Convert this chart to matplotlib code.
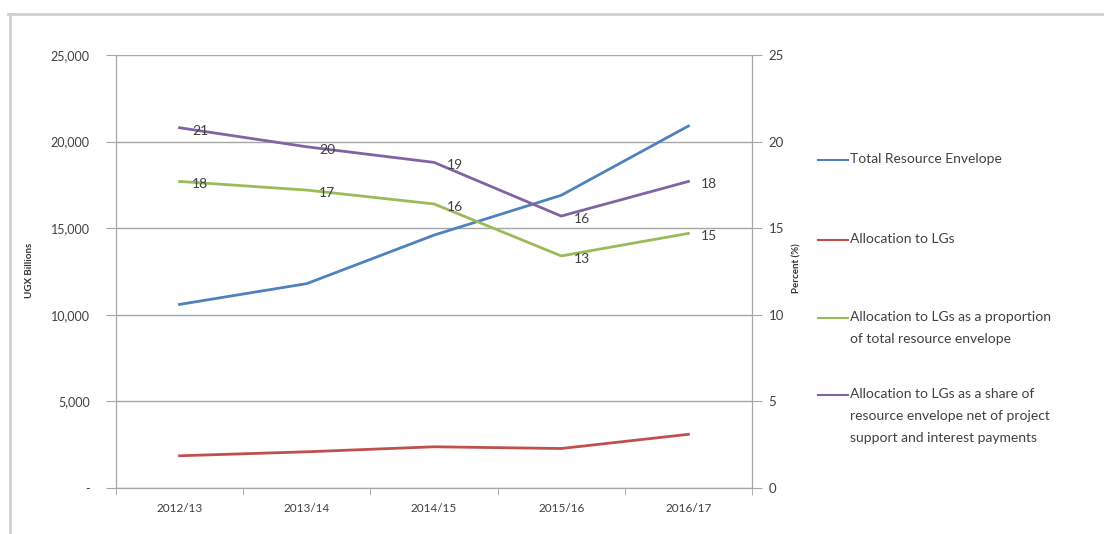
import matplotlib
matplotlib.use("Agg")
import matplotlib.pyplot as plt
from matplotlib.lines import Line2D
from matplotlib.ticker import FuncFormatter, FixedLocator

plt.rcParams['font.family'] = ['Lato', 'DejaVu Sans']

# data
years = ["2012/13", "2013/14", "2014/15", "2015/16", "2016/17"]
total_envelope = [10600, 11800, 14600, 16900, 20900]
alloc_lgs = [1860, 2090, 2380, 2280, 3100]
share_total = [17.7, 17.2, 16.4, 13.4, 14.7]
share_net = [20.8, 19.7, 18.8, 15.7, 17.7]
share_total_lbl = ["18", "17", "16", "13", "15"]
share_net_lbl = ["21", "20", "19", "16", "18"]

legend_labels = [
    "Total Resource Envelope",
    "Allocation to LGs",
    "Allocation to LGs as a proportion\nof total resource envelope",
    "Allocation to LGs as a share of\nresource envelope net of project\nsupport and interest payments",
]

BLUE = "#4F81BD"
RED = "#C0504D"
GREEN = "#9BBB59"
PURPLE = "#8064A2"
GRID = "#a6a6a6"
TXT = "#404040"

W, H = 1104, 534
fig = plt.figure(figsize=(W / 100, H / 100), dpi=100)
ax = fig.add_axes([116 / W, 1 - 488 / H, (752 - 116) / W, (488 - 55) / H])
ax2 = ax.twinx()

x = list(range(len(years)))
ax.plot(x, total_envelope, color=BLUE, lw=2, zorder=3)
ax.plot(x, alloc_lgs, color=RED, lw=2, zorder=3)
ax2.plot(x, share_total, color=GREEN, lw=2)
ax2.plot(x, share_net, color=PURPLE, lw=2)

for xi, v, t in zip(x, share_total, share_total_lbl):
    ax2.annotate(t, (xi, v), xytext=(9, -2), textcoords="offset points",
                 ha="left", va="center", fontsize=10, color=TXT)
for xi, v, t in zip(x, share_net, share_net_lbl):
    ax2.annotate(t, (xi, v), xytext=(9, -2), textcoords="offset points",
                 ha="left", va="center", fontsize=10, color=TXT)

ax.set_xlim(-0.5, len(years) - 0.5)
ax.set_ylim(0, 25000)
ax2.set_ylim(0, 25)
ax.set_yticks(range(0, 25001, 5000))
ax2.set_yticks(range(0, 26, 5))
ax.yaxis.set_major_formatter(FuncFormatter(lambda v, p: "-" if v == 0 else "{:,.0f}".format(v)))
ax.set_xticks(x)
ax.set_xticklabels(years)
ax.xaxis.set_minor_locator(FixedLocator([i - 0.5 for i in range(len(years) + 1)]))
ax.tick_params(axis="x", which="major", length=0, pad=11, labelsize=8.5, colors=TXT)
ax.tick_params(axis="x", which="minor", length=5, color=GRID)
ax.tick_params(axis="y", length=7, color=GRID, labelsize=9, labelcolor=TXT, pad=12)
ax2.tick_params(axis="y", length=7, color=GRID, labelsize=9.5, labelcolor=TXT, pad=5)

ax.grid(axis="y", color=GRID, lw=1)
ax.set_axisbelow(True)
for a in (ax, ax2):
    a.spines["top"].set_visible(False)
    for s in ("left", "right", "bottom"):
        a.spines[s].set_color(GRID)
ax2.set_zorder(ax.zorder + 1)
ax2.patch.set_visible(False)

fig.text(30 / W, 1 - 270 / H, "UGX Billions", rotation=90, ha="center", va="center",
         fontsize=7, fontweight="bold", color="#333333")
fig.text(797 / W, 1 - 268 / H, "Percent (%)", rotation=90, ha="center", va="center",
         fontsize=7, fontweight="bold", color="#333333")

# legend drawn by hand to match the spacing
colors = [BLUE, RED, GREEN, PURPLE]
tops = [160, 240, 318, 395]
for c, t, lbl in zip(colors, tops, legend_labels):
    fig.add_artist(Line2D([818 / W, 848 / W], [1 - t / H, 1 - t / H], color=c, lw=1.5))
    fig.text(850 / W, 1 - (t - 7) / H, lbl, ha="left", va="top", fontsize=10,
             color=TXT, linespacing=2.0)

# chart area border (top and left edges)
fig.add_artist(Line2D([8 / W, 1], [1 - 14 / H, 1 - 14 / H], color="#d0d0d0", lw=2))
fig.add_artist(Line2D([10 / W, 10 / W], [0, 1 - 14 / H], color="#d0d0d0", lw=2))

fig.savefig("out.png", dpi=100)
